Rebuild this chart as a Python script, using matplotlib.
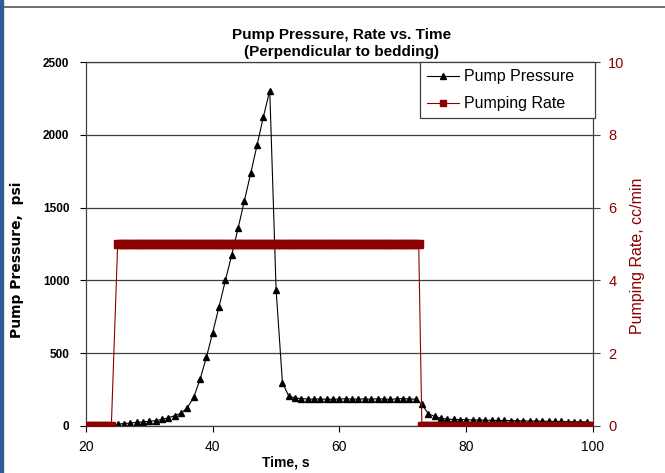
import numpy as np
import matplotlib.pyplot as plt
from matplotlib.patches import Rectangle
from matplotlib.lines import Line2D

# --- datos: presión de bomba (psi), un punto por segundo ---
t_pres = np.arange(25, 100, 1)
presion = [12, 17, 20, 25, 28, 32, 37, 45, 57, 70,
           88, 126, 197, 321, 472, 642, 820, 1000, 1175, 1358,
           1548, 1736, 1930, 2125, 2304, 934, 297, 205, 192, 188,
           185, 184, 186, 183, 184, 185, 187, 184, 185, 186,
           184, 187, 185, 183, 186, 188, 186, 184, 149, 85,
           66, 53, 48, 45, 44, 43, 42, 41, 40, 39,
           38, 38, 37, 36, 35, 34, 34, 33, 32, 31,
           31, 30, 29, 29, 28]

# --- datos: caudal de bombeo (cc/min), cada 0.5 s ---
t_caudal = np.concatenate([np.arange(20, 24.5, 0.5),
                           np.arange(25, 73, 0.5),
                           np.arange(73, 100.5, 0.5)])
caudal = [0.0] * 9 + [5.0] * 96 + [0.0] * 55

rojo = '#8B0000'
plt.rcParams['font.family'] = ['Liberation Sans', 'DejaVu Sans']

fig = plt.figure(figsize=(6.65, 4.73), dpi=100)
ax = fig.add_axes([0.1293, 0.0994, 0.7624, 0.7695])

ax.plot(t_pres, presion, color='black', linewidth=0.8, marker='^',
        markersize=4.8, label='Pump Pressure')
ax.set_xlim(20, 100)
ax.set_ylim(0, 2500)
ax.set_xticks([20, 40, 60, 80, 100])
ax.set_yticks(range(0, 2501, 500))
ax.yaxis.grid(True, color='#404040', linewidth=0.9)
ax.set_axisbelow(True)
ax.tick_params(axis='y', labelsize=8.5, length=4, direction='out', pad=8)
ax.tick_params(axis='x', labelsize=10, length=4, direction='out', pad=6)
for lab in ax.get_yticklabels():
    lab.set_fontweight('bold')
for s in ax.spines.values():
    s.set_color('#404040')
    s.set_linewidth(0.9)

ax2 = ax.twinx()
ax2.plot(t_caudal, caudal, color=rojo, linewidth=0.8, marker='s',
         markersize=5.5, label='Pumping Rate')
ax2.set_ylim(0, 10)
ax2.set_yticks(range(0, 11, 2))
ax2.tick_params(axis='y', labelsize=10.5, colors=rojo, length=5,
                direction='out', pad=6)
for lab in ax2.get_yticklabels():
    lab.set_color(rojo)
ax2.tick_params(axis='y', color='#404040')
for s in ax2.spines.values():
    s.set_visible(False)

fig.text(0.513, 0.908, 'Pump Pressure, Rate vs. Time\n(Perpendicular to bedding)',
         ha='center', va='center', fontsize=11, fontweight='bold',
         linespacing=1.2)
fig.text(0.43, 0.023, 'Time, s', ha='center', va='center',
         fontsize=10, fontweight='bold')
fig.text(0.026, 0.45, 'Pump Pressure,  psi', ha='center', va='center',
         rotation=90, fontsize=10, fontweight='bold', family='DejaVu Sans')
fig.text(0.958, 0.46, 'Pumping Rate, cc/min', ha='center', va='center',
         rotation=90, fontsize=11.5, color=rojo)

# leyenda combinada
h1, l1 = ax.get_legend_handles_labels()
h2, l2 = ax2.get_legend_handles_labels()
etiquetas = [l + '   ' for l in l1 + l2]
leg = ax2.legend(h1 + h2, etiquetas, loc='upper right',
                 bbox_to_anchor=(1.003, 1.0), borderaxespad=0,
                 fontsize=11.5, fancybox=False,
                 framealpha=1, edgecolor='#404040', markerscale=0.8,
                 handlelength=2.0, handletextpad=0.3, borderpad=0.45,
                 labelspacing=0.75)
leg.get_frame().set_linewidth(0.9)

# marco de la captura
fig.patches.append(Rectangle((0, 0), 0.0045, 1, transform=fig.transFigure,
                             color='#2E5A95', zorder=5))
fig.lines.append(Line2D([0.0045, 1], [0.986, 0.986], transform=fig.transFigure,
                        color='#555555', linewidth=1.2))

plt.savefig('out.png', dpi=100)
plt.close()
